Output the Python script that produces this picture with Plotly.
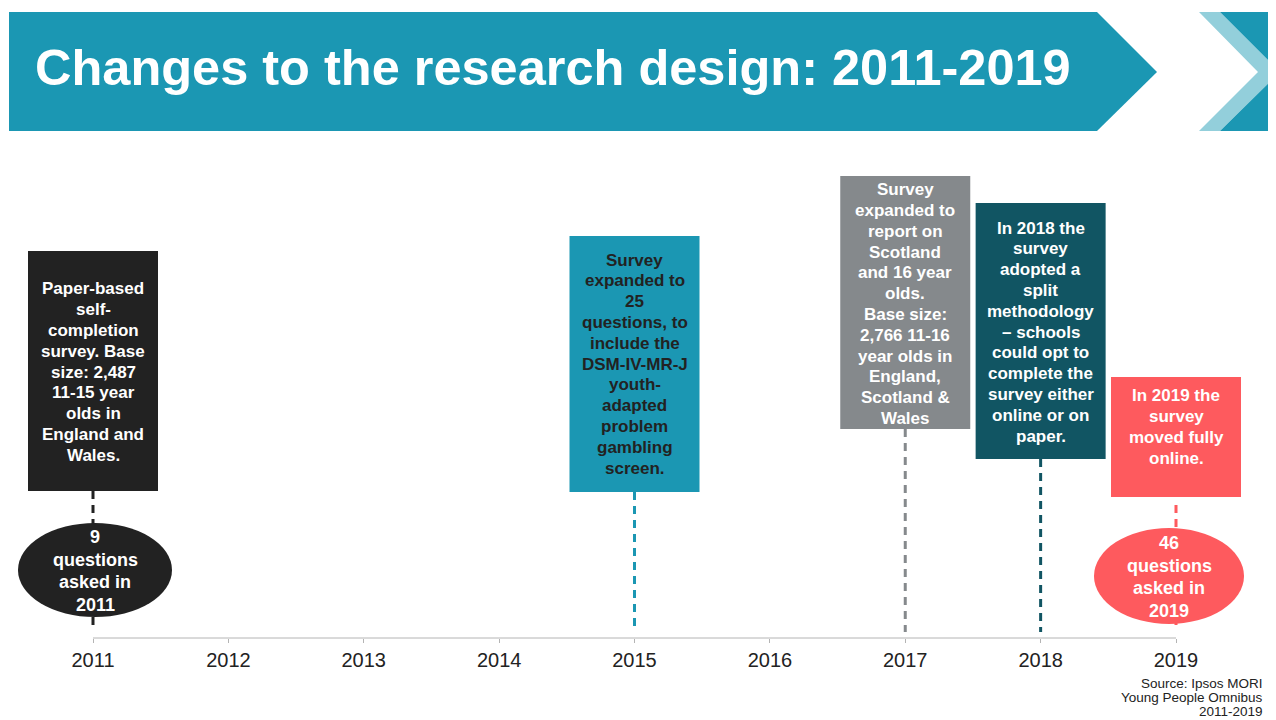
import plotly.graph_objects as go

# page offset: the page body adds an 8px margin around the figure
OFF = 8
PAGE_W, PAGE_H = 1276, 720
W, H = PAGE_W - OFF, PAGE_H - OFF
FONT = "Liberation Sans, Arial, sans-serif"

# ---- data ----
years = [2011, 2012, 2013, 2014, 2015, 2016, 2017, 2018, 2019]
tick_labels = [str(y) for y in years]

event_years = [2011, 2015, 2017, 2018, 2019]
event_texts = [
    ["Paper-based", "self-", "completion", "survey. Base", "size: 2,487",
     "11-15 year", "olds in", "England and", "Wales."],
    ["Survey", "expanded to", "25", "questions, to", "include the",
     "DSM-IV-MR-J", "youth-", "adapted", "problem", "gambling", "screen."],
    ["Survey", "expanded to", "report on", "Scotland", "and 16 year", "olds.",
     "Base size:", "2,766 11-16", "year olds in", "England,", "Scotland &", "Wales"],
    ["In 2018 the", "survey", "adopted a", "split", "methodology", "– schools",
     "could opt to", "complete the", "survey either", "online or on", "paper."],
    ["In 2019 the", "survey", "moved fully", "online."],
]
event_colors = ["#222222", "#1b97b3", "#85898c", "#115563", "#fe5a5e"]
event_text_colors = ["#ffffff", "#222222", "#ffffff", "#ffffff", "#ffffff"]

question_years = [2011, 2019]
question_counts = [9, 46]
question_colors = ["#222222", "#fe5a5e"]

title_text = "Changes to the research design: 2011-2019"
source_lines = ["Source: Ipsos MORI", "Young People Omnibus", "2011-2019"]

# ---- layout geometry (reference page pixels) ----
px_2011, px_2019 = 93, 1176
per_year = (px_2019 - px_2011) / (years[-1] - years[0])
x_lo = years[0] - (px_2011 - OFF) / per_year
x_hi = x_lo + W / per_year
axis_y = 638

box_top = [251, 236, 176, 203, 377]
box_bot = [491, 492, 429, 459, 497]
box_half_px = 65
text_center = [372, 364, 304, 332, 427]
line_h = 20.8
dash_top = [491, 492, 429, 459, 505]
dash_bot = [625, 632, 632, 632, 625]

ell_dx = [2, -7]
ell_cy = [570, 576]
ell_rx = [77, 75]
ell_ry = [47, 48]
ell_text_cy = [571, 577]
ell_line_h = 22.7


def dx(px):
    return px / per_year


def P(px):
    return (px - OFF) / W


fig = go.Figure()

# axis baseline
fig.add_trace(go.Scatter(
    x=[years[0], years[-1]], y=[axis_y, axis_y], mode="lines",
    line=dict(color="#b4b4b4", width=1), hoverinfo="skip", showlegend=False,
))

# dashed connectors
for yr, c, t, b in zip(event_years, event_colors, dash_top, dash_bot):
    fig.add_trace(go.Scatter(
        x=[yr, yr], y=[t, b], mode="lines",
        line=dict(color=c, width=3, dash="8px,6px"),
        hoverinfo="skip", showlegend=False,
    ))

shapes = []
annotations = []

# banner
banner = (f"M {P(9)},12 L {P(1097)},12 L {P(1157)},72 L {P(1097)},131 L {P(9)},131 Z")
shapes.append(dict(type="path", path=banner, xref="paper", yref="y",
                   fillcolor="#1b97b3", line=dict(width=0), layer="below"))
light = (f"M {P(1199)},12 L {P(1220)},12 L {P(1280)},72 L {P(1220)},131 "
         f"L {P(1199)},131 L {P(1258)},72 Z")
shapes.append(dict(type="path", path=light, xref="paper", yref="y",
                   fillcolor="#93cfdb", line=dict(width=0), layer="below"))
dark = (f"M {P(1220)},12 L {P(1280)},12 L {P(1280)},131 L {P(1220)},131 "
        f"L {P(1280)},72 Z")
shapes.append(dict(type="path", path=dark, xref="paper", yref="y",
                   fillcolor="#1b97b3", line=dict(width=0), layer="below"))

annotations.append(dict(
    x=P(33), y=67, xref="paper", yref="y", xanchor="left", yanchor="middle",
    text=f"<b>{title_text}</b>", showarrow=False,
    font=dict(family=FONT, size=50.5, color="#ffffff"),
))

# event boxes
for yr, lines, c, tc, t, b, cy in zip(event_years, event_texts, event_colors,
                                       event_text_colors, box_top, box_bot, text_center):
    shapes.append(dict(type="rect", xref="x", yref="y",
                       x0=yr - dx(box_half_px), x1=yr + dx(box_half_px), y0=t, y1=b,
                       fillcolor=c, line=dict(width=0)))
    n = len(lines)
    for i, ln in enumerate(lines):
        annotations.append(dict(
            x=yr, y=cy + (i - (n - 1) / 2) * line_h, xref="x", yref="y",
            xanchor="center", yanchor="middle",
            text=f"<b>{ln}</b>", showarrow=False,
            font=dict(family=FONT, size=17, color=tc),
        ))

# question-count ellipses
for yr, q, c, ddx, cy, rx, ry, tcy in zip(question_years, question_counts, question_colors,
                                         ell_dx, ell_cy, ell_rx, ell_ry, ell_text_cy):
    cx = yr + dx(ddx)
    shapes.append(dict(type="circle", xref="x", yref="y",
                       x0=cx - dx(rx), x1=cx + dx(rx), y0=cy - ry, y1=cy + ry,
                       fillcolor=c, line=dict(width=0)))
    lines = [str(q), "questions", "asked in", str(yr)]
    n = len(lines)
    for i, ln in enumerate(lines):
        annotations.append(dict(
            x=cx, y=tcy + (i - (n - 1) / 2) * ell_line_h, xref="x", yref="y",
            xanchor="center", yanchor="middle",
            text=f"<b>{ln}</b>", showarrow=False,
            font=dict(family=FONT, size=18, color="#ffffff"),
        ))

# source
for i, line in enumerate(source_lines):
    annotations.append(dict(
        x=P(1265), y=683 + 14 * i, xref="paper", yref="y", xanchor="right",
        yanchor="middle", text=line, showarrow=False, align="right",
        font=dict(family=FONT, size=13.5, color="#222222"),
    ))

fig.update_layout(
    width=W, height=H, margin=dict(l=0, r=0, t=0, b=0),
    paper_bgcolor="#ffffff", plot_bgcolor="#ffffff",
    shapes=shapes, annotations=annotations, showlegend=False,
    xaxis=dict(range=[x_lo, x_hi], domain=[0, 1], anchor="free",
               position=(PAGE_H - axis_y) / H,
               tickvals=years, ticktext=tick_labels, ticks="outside", ticklen=4,
               tickcolor="#b4b4b4", tickwidth=1, showline=False, showgrid=False,
               zeroline=False, tickfont=dict(family=FONT, size=20, color="#222222"),
               fixedrange=True),
    yaxis=dict(range=[PAGE_H, OFF], domain=[0, 1], visible=False, showgrid=False,
               zeroline=False, fixedrange=True),
)

fig.write_html("out.html")
